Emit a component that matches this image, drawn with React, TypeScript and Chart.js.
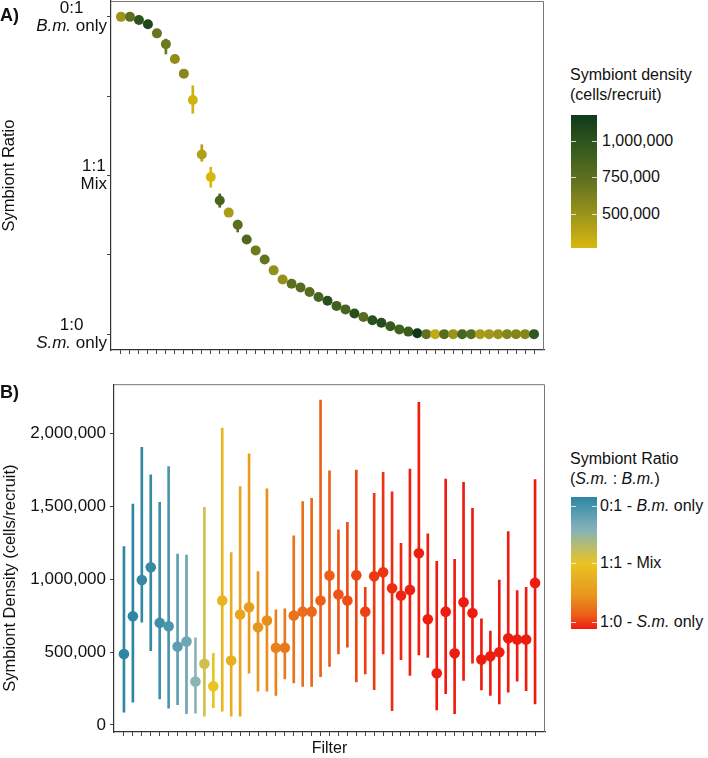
import React, { useEffect, useRef } from "react";
import { Chart, registerables } from "chart.js";
Chart.register(...registerables);

const FONT = "'Liberation Sans', Arial, Helvetica, sans-serif";

// Panel A: symbiont ratio as S.m. fraction (0 = B.m. only, 0.5 = mix, 1 = S.m. only)
const RATIO_MEAN = [0, 0, 0.01, 0.023, 0.052, 0.086, 0.133, 0.179, 0.262, 0.434, 0.505, 0.579, 0.617, 0.655, 0.702, 0.736, 0.765, 0.799, 0.828, 0.841, 0.853, 0.867, 0.883, 0.895, 0.911, 0.922, 0.935, 0.946, 0.956, 0.964, 0.975, 0.985, 0.992, 0.997, 1, 1, 1, 1, 1, 1, 1, 1, 1, 1, 1, 1, 1];
const RATIO_LOW = [0, 0, 0.004, 0.016, 0.044, 0.07, 0.124, 0.17, 0.217, 0.403, 0.474, 0.558, 0.606, 0.641, 0.693, 0.728, 0.757, 0.792, 0.822, 0.836, 0.848, 0.862, 0.878, 0.89, 0.906, 0.918, 0.931, 0.942, 0.952, 0.96, 0.971, 0.982, 0.989, 0.995, 1, 1, 1, 1, 1, 1, 1, 1, 1, 1, 1, 1, 1];
const RATIO_HIGH = [0, 0.004, 0.016, 0.03, 0.06, 0.117, 0.142, 0.188, 0.304, 0.455, 0.537, 0.6, 0.628, 0.678, 0.711, 0.744, 0.773, 0.806, 0.834, 0.846, 0.858, 0.872, 0.888, 0.9, 0.916, 0.926, 0.939, 0.95, 0.96, 0.968, 0.979, 0.988, 0.995, 0.999, 1, 1, 1, 1, 1, 1, 1, 1, 1, 1, 1, 1, 1];

// Panel B: symbiont density (cells/recruit)
const DENSITY_MEAN = [487000, 745000, 994000, 1081000, 700000, 677000, 538000, 572000, 298000, 419000, 266000, 853000, 442000, 757000, 807000, 670000, 716000, 529000, 529000, 750000, 777000, 777000, 853000, 1024000, 894000, 853000, 1027000, 777000, 1019000, 1047000, 937000, 887000, 926000, 1177000, 725000, 355000, 777000, 492000, 841000, 768000, 449000, 471000, 499000, 595000, 586000, 586000, 974000];
const DENSITY_LOW = [88000, 156000, 704000, 510000, 179000, 115000, 140000, 77000, 81000, 60000, 118000, 95000, 60000, 60000, 355000, 232000, 232000, 202000, 316000, 289000, 264000, 264000, 332000, 401000, 488000, 533000, 295000, 350000, 243000, 488000, 99000, 447000, 339000, 481000, 464000, 104000, 214000, 77000, 305000, 423000, 241000, 202000, 145000, 225000, 300000, 236000, 145000];
const DENSITY_HIGH = [1223000, 1515000, 1903000, 1714000, 1526000, 1771000, 1172000, 1164000, 597000, 1492000, 492000, 2036000, 1182000, 1634000, 1858000, 1051000, 1618000, 789000, 796000, 1296000, 1531000, 1553000, 2227000, 1743000, 1337000, 1389000, 1748000, 944000, 1588000, 1732000, 1599000, 1245000, 1755000, 2211000, 1310000, 1122000, 1686000, 1136000, 1663000, 1485000, 727000, 643000, 994000, 1325000, 921000, 944000, 1682000];

// Axis ticks / labels
const RATIO_TICKS = [0, 0.25, 0.5, 0.75, 1];
const RATIO_TICK_LINE1 = ["0:1", "", "1:1", "", "1:0"];
const RATIO_TICK_LINE2_ITALIC = ["B.m.", "", "", "", "S.m."];
const RATIO_TICK_LINE2_PLAIN = [" only", "", "Mix", "", " only"];
const DENSITY_TICKS = [0, 500000, 1000000, 1500000, 2000000];
const DENSITY_LEGEND_BREAKS = [500000, 750000, 1000000];
const RATIO_LEGEND_BREAKS = [0.07, 0.5, 0.945];
const DENSITY_TITLE = "Symbiont Density (cells/recruit)";

// Colour scales
const DENSITY_STOPS: [number, string][] = [
  [0, "#d9b80e"], [0.25, "#9b941a"], [0.5, "#62721f"], [0.75, "#355a1f"], [1, "#0f3a1a"],
];
const RATIO_STOPS: [number, string][] = [
  [0, "#2e86a4"], [0.25, "#86b3bb"], [0.5, "#e8c421"], [0.75, "#e8941e"], [0.9, "#ec5c18"], [1, "#ee1c0f"],
];

function hexRgb(h: string) {
  const n = parseInt(h.slice(1), 16);
  return [(n >> 16) & 255, (n >> 8) & 255, n & 255];
}
function interp(stops: [number, string][], t: number) {
  t = Math.max(0, Math.min(1, t));
  for (let i = 0; i < stops.length - 1; i++) {
    const [t0, c0] = stops[i];
    const [t1, c1] = stops[i + 1];
    if (t <= t1) {
      const f = (t - t0) / (t1 - t0);
      const a = hexRgb(c0), b = hexRgb(c1);
      const r = a.map((v, k) => Math.round(v + (b[k] - v) * f));
      return `rgb(${r[0]},${r[1]},${r[2]})`;
    }
  }
  return stops[stops.length - 1][1];
}
const DMIN = Math.min(...DENSITY_MEAN);
const DMAX = Math.max(...DENSITY_MEAN);
const densityColor = (v: number) => interp(DENSITY_STOPS, (v - DMIN) / (DMAX - DMIN));
const ratioColor = (v: number) => interp(RATIO_STOPS, v);

const fmt = (v: number) => v.toLocaleString("en-US");

const boxPlugin = {
  id: "box",
  afterDraw(chart: any) {
    const { ctx, chartArea: a } = chart;
    ctx.save();
    ctx.strokeStyle = "#777";
    ctx.lineWidth = 1;
    ctx.beginPath();
    ctx.moveTo(a.left, a.top + 0.5);
    ctx.lineTo(a.right - 0.5, a.top + 0.5);
    ctx.lineTo(a.right - 0.5, a.bottom);
    ctx.stroke();
    ctx.restore();
  },
};

const ratioLabelPlugin = {
  id: "ratioLabels",
  afterDraw(chart: any) {
    const { ctx } = chart;
    const y = chart.scales.y;
    const fN = `17px ${FONT}`;
    const fI = `italic 17px ${FONT}`;
    ctx.save();
    ctx.fillStyle = "#111";
    ctx.textBaseline = "middle";
    ctx.textAlign = "left";
    RATIO_TICKS.forEach((v, i) => {
      const l1 = RATIO_TICK_LINE1[i];
      if (!l1) return;
      const py = y.getPixelForValue(v);
      ctx.font = fN;
      const w1 = ctx.measureText(l1).width;
      ctx.font = fI;
      const wI = ctx.measureText(RATIO_TICK_LINE2_ITALIC[i]).width;
      ctx.font = fN;
      const wP = ctx.measureText(RATIO_TICK_LINE2_PLAIN[i]).width;
      const w2 = wI + wP;
      const bw = Math.max(w1, w2);
      const right = y.right - 4;
      const cx = right - bw / 2;
      ctx.font = fN;
      ctx.fillText(l1, cx - w1 / 2, py - 9);
      const x2 = cx - w2 / 2;
      ctx.font = fI;
      ctx.fillText(RATIO_TICK_LINE2_ITALIC[i], x2, py + 9);
      ctx.font = fN;
      ctx.fillText(RATIO_TICK_LINE2_PLAIN[i], x2 + wI, py + 9);
    });
    ctx.restore();
  },
};

const densityTitlePlugin = {
  id: "densityTitle",
  afterDraw(chart: any) {
    const { ctx, chartArea: a } = chart;
    ctx.save();
    ctx.translate(10, (a.top + a.bottom) / 2 + 20);
    ctx.rotate(-Math.PI / 2);
    ctx.textAlign = "center";
    ctx.textBaseline = "middle";
    ctx.fillStyle = "#111";
    ctx.font = `16.5px ${FONT}`;
    ctx.fillText(DENSITY_TITLE, 0, 0);
    ctx.restore();
  },
};

function xScale(height: number, title?: string) {
  return {
    type: "linear",
    min: -0.6,
    max: RATIO_MEAN.length - 1 + 0.6,
    afterBuildTicks: (s: any) => {
      s.ticks = RATIO_MEAN.map((_, i) => ({ value: i }));
    },
    afterFit: (s: any) => {
      s.height = height;
    },
    ticks: { callback: () => "", autoSkip: false, padding: 0 },
    grid: { drawOnChartArea: false, drawTicks: true, tickLength: 4, color: "#444", offset: false },
    border: { display: true, color: "#333", width: 1.2 },
    title: title
      ? { display: true, text: title, color: "#111", font: { size: 16, family: FONT }, padding: { top: 0, bottom: 0 } }
      : { display: false },
  };
}

export default function App() {
  const refA = useRef<HTMLCanvasElement>(null);
  const refB = useRef<HTMLCanvasElement>(null);

  useEffect(() => {
    const colorsA = DENSITY_MEAN.map(densityColor);
    const colorsB = RATIO_MEAN.map(ratioColor);

    const chartA = new Chart(refA.current as HTMLCanvasElement, {
      type: "bar",
      data: {
        datasets: [
          {
            type: "line",
            data: RATIO_MEAN.map((v, i) => ({ x: i, y: v })),
            showLine: false,
            pointRadius: 5,
            pointHoverRadius: 5,
            pointBorderWidth: 0,
            pointBackgroundColor: colorsA,
            pointBorderColor: colorsA,
            order: 0,
          } as any,
          {
            type: "bar",
            data: RATIO_MEAN.map((_, i) => ({ x: i, y: [RATIO_LOW[i], RATIO_HIGH[i]] })),
            backgroundColor: colorsA,
            borderWidth: 0,
            barThickness: 2,
            order: 1,
          } as any,
        ],
      },
      options: {
        animation: false,
        responsive: false,
        maintainAspectRatio: false,
        layout: { autoPadding: false, padding: { top: 1, right: 16, bottom: 0, left: 0 } },
        plugins: { legend: { display: false }, tooltip: { enabled: false } },
        scales: {
          x: xScale(22) as any,
          y: {
            type: "linear",
            reverse: true,
            min: -0.05,
            max: 1.05,
            afterBuildTicks: (s: any) => {
              s.ticks = RATIO_TICKS.map((v) => ({ value: v }));
            },
            afterFit: (s: any) => {
              s.width = 111;
            },
            ticks: { display: false },
            grid: { drawOnChartArea: false, drawTicks: true, tickLength: 4, color: "#444" },
            border: { display: true, color: "#333", width: 1.2 },
            title: { display: true, text: "Symbiont Ratio", color: "#111", font: { size: 16.5, family: FONT }, padding: { top: 0, bottom: 0 } },
          } as any,
        },
      },
      plugins: [boxPlugin, ratioLabelPlugin],
    });

    const chartB = new Chart(refB.current as HTMLCanvasElement, {
      type: "bar",
      data: {
        datasets: [
          {
            type: "line",
            data: DENSITY_MEAN.map((v, i) => ({ x: i, y: v })),
            showLine: false,
            pointRadius: 5.3,
            pointHoverRadius: 5.3,
            pointBorderWidth: 0,
            pointBackgroundColor: colorsB,
            pointBorderColor: colorsB,
            order: 0,
          } as any,
          {
            type: "bar",
            data: DENSITY_MEAN.map((_, i) => ({ x: i, y: [DENSITY_LOW[i], DENSITY_HIGH[i]] })),
            backgroundColor: colorsB,
            borderWidth: 0,
            barThickness: 2,
            order: 1,
          } as any,
        ],
      },
      options: {
        animation: false,
        responsive: false,
        maintainAspectRatio: false,
        layout: { autoPadding: false, padding: { top: 13, right: 15, bottom: 0, left: 0 } },
        plugins: { legend: { display: false }, tooltip: { enabled: false } },
        scales: {
          x: xScale(26, "Filter") as any,
          y: {
            type: "linear",
            min: -48000,
            max: 2336000,
            afterBuildTicks: (s: any) => {
              s.ticks = DENSITY_TICKS.map((v) => ({ value: v }));
            },
            afterFit: (s: any) => {
              s.width = 114;
            },
            ticks: { callback: (v: any) => fmt(Number(v)), padding: 4, color: "#111", font: { size: 17, family: FONT } },
            grid: { drawOnChartArea: false, drawTicks: true, tickLength: 4, color: "#444" },
            border: { display: true, color: "#333", width: 1.2 },
            title: { display: false },
          } as any,
        },
      },
      plugins: [boxPlugin, densityTitlePlugin],
    });

    return () => {
      chartA.destroy();
      chartB.destroy();
    };
  }, []);

  // Legend geometry
  const barA = { left: 571, top: 115, w: 26, h: 133 };
  const barB = { left: 571, top: 497, w: 26, h: 132 };
  const gradA = `linear-gradient(to top, ${DENSITY_STOPS.map(([t, c]) => `${c} ${t * 100}%`).join(", ")})`;
  const gradB = `linear-gradient(to bottom, ${RATIO_STOPS.map(([t, c]) => `${c} ${t * 100}%`).join(", ")})`;
  const yA = (v: number) => barA.top + ((DMAX - v) / (DMAX - DMIN)) * barA.h;
  const yB = (v: number) => barB.top + v * barB.h;
  const ratioLegendLabels = [
    <span key="a">0:1 - <i>B.m.</i> only</span>,
    <span key="b">1:1 - Mix</span>,
    <span key="c">1:0 - <i>S.m.</i> only</span>,
  ];

  const tick = (x: number, y: number, k: string) => (
    <div key={k} style={{ position: "absolute", left: x, top: Math.round(y) - 0.5, width: 5, height: 1, background: "rgba(255,255,255,0.75)" }} />
  );

  return (
    <div style={{ position: "absolute", left: 0, top: 0, width: 708, height: 758, background: "#fff", fontFamily: FONT, color: "#111" }}>
      <canvas ref={refA} width={560} height={372} style={{ position: "absolute", left: 0, top: 0, width: 560, height: 372 }} />
      <canvas ref={refB} width={560} height={388} style={{ position: "absolute", left: 0, top: 370, width: 560, height: 388 }} />

      <div style={{ position: "absolute", left: 0, top: 4, fontSize: 18, fontWeight: "bold", lineHeight: "22px" }}>A)</div>
      <div style={{ position: "absolute", left: 0, top: 381, fontSize: 18, fontWeight: "bold", lineHeight: "22px" }}>B)</div>

      {/* Legend A */}
      <div style={{ position: "absolute", left: 570, top: 65, fontSize: 16, lineHeight: "20px", whiteSpace: "nowrap" }}>
        Symbiont density
        <br />
        (cells/recruit)
      </div>
      <div style={{ position: "absolute", left: barA.left, top: barA.top, width: barA.w, height: barA.h, background: gradA }} />
      {DENSITY_LEGEND_BREAKS.map((v, i) => (
        <React.Fragment key={"la" + i}>
          {tick(barA.left, yA(v), "tal" + i)}
          {tick(barA.left + barA.w - 5, yA(v), "tar" + i)}
          <div style={{ position: "absolute", left: 602, top: yA(v) - 10, fontSize: 16, lineHeight: "20px", whiteSpace: "nowrap" }}>{fmt(v)}</div>
        </React.Fragment>
      ))}

      {/* Legend B */}
      <div style={{ position: "absolute", left: 570, top: 449, fontSize: 16, lineHeight: "20px", whiteSpace: "nowrap" }}>
        Symbiont Ratio
        <br />
        (<i>S.m.</i> : <i>B.m.</i>)
      </div>
      <div style={{ position: "absolute", left: barB.left, top: barB.top, width: barB.w, height: barB.h, background: gradB }} />
      {RATIO_LEGEND_BREAKS.map((v, i) => (
        <React.Fragment key={"lb" + i}>
          {tick(barB.left, yB(v), "tbl" + i)}
          {tick(barB.left + barB.w - 5, yB(v), "tbr" + i)}
          <div style={{ position: "absolute", left: 600, top: yB(v) - 10, fontSize: 16, lineHeight: "20px", whiteSpace: "nowrap" }}>{ratioLegendLabels[i]}</div>
        </React.Fragment>
      ))}
    </div>
  );
}
